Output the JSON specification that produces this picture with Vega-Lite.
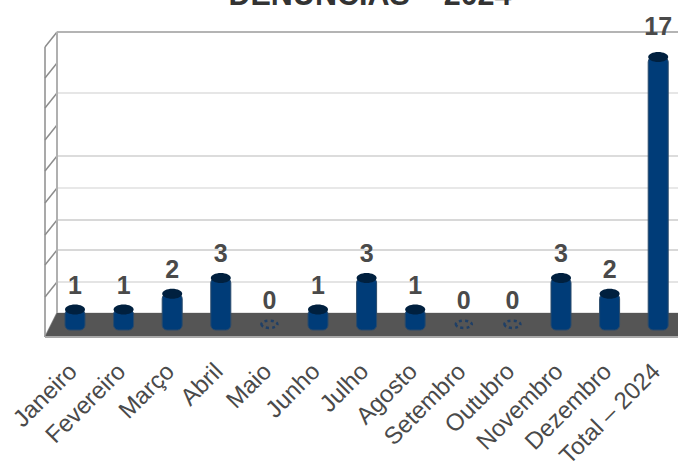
{"$schema":"https://vega.github.io/schema/vega-lite/v6.json","width":678,"height":337,"padding":{"left":0,"top":0,"right":0,"bottom":127},"autosize":{"type":"none"},"background":"white","config":{"view":{"stroke":null}},"datasets":{"months":[{"mes":"Janeiro","n":1},{"mes":"Fevereiro","n":1},{"mes":"Março","n":2},{"mes":"Abril","n":3},{"mes":"Maio","n":0},{"mes":"Junho","n":1},{"mes":"Julho","n":3},{"mes":"Agosto","n":1},{"mes":"Setembro","n":0},{"mes":"Outubro","n":0},{"mes":"Novembro","n":3},{"mes":"Dezembro","n":2},{"mes":"Total – 2024","n":17}],"grid":[{"level":18.59,"front":17.64,"c":"#b4b4b4"},{"level":16.62,"front":15.67,"c":"#ffffff"},{"level":14.72,"front":13.77,"c":"#e6e6e6"},{"level":12.69,"front":11.74,"c":"#ffffff"},{"level":10.73,"front":9.78,"c":"#dcdcdc"},{"level":8.7,"front":7.75,"c":"#e8e8e8"},{"level":6.67,"front":5.72,"c":"#d8d8d8"},{"level":4.77,"front":3.82,"c":"#d8d8d8"},{"level":2.74,"front":1.79,"c":"#e4e4e4"},{"level":0.78,"front":-0.74,"c":"#e4e4e4"}],"floor":[{"edge":45,"back":-0.74,"front":-0.74},{"edge":57,"back":0.78,"front":-0.74},{"edge":678,"back":0.78,"front":-0.74}]},"resolve":{"scale":{"x":"independent"}},"layer":[{"data":{"name":"grid"},"mark":{"type":"rule","strokeWidth":2},"encoding":{"x":{"datum":57,"type":"quantitative","scale":{"domain":[0,678],"range":[0,678]},"axis":null},"x2":{"datum":678},"y":{"field":"level","type":"quantitative","scale":{"domain":[-0.7414,20.615],"range":[337,0],"nice":false,"zero":false},"axis":null},"color":{"field":"c","type":"nominal","scale":null,"legend":null}}},{"data":{"name":"grid"},"mark":{"type":"rule","strokeWidth":1.5,"color":"#8c8c8c"},"encoding":{"x":{"datum":57,"type":"quantitative","scale":{"domain":[0,678],"range":[0,678]},"axis":null},"x2":{"datum":45},"y":{"field":"level","type":"quantitative","axis":null},"y2":{"field":"front"}}},{"data":{"name":"floor"},"mark":{"type":"area","color":"#555555"},"encoding":{"x":{"field":"edge","type":"quantitative","scale":{"domain":[0,678],"range":[0,678]},"axis":null},"y":{"field":"back","type":"quantitative","axis":null},"y2":{"field":"front"}}},{"data":{"values":[{"a":0}]},"mark":{"type":"rule","strokeWidth":2,"color":"#b0b0b0"},"encoding":{"x":{"datum":57,"type":"quantitative","scale":{"domain":[0,678],"range":[0,678]},"axis":null},"y":{"datum":18.59,"type":"quantitative","axis":null},"y2":{"datum":0.78}}},{"data":{"values":[{"a":0}]},"mark":{"type":"rule","strokeWidth":1.5,"color":"#8c8c8c"},"encoding":{"x":{"datum":45,"type":"quantitative","scale":{"domain":[0,678],"range":[0,678]},"axis":null},"y":{"datum":17.64,"type":"quantitative","axis":null},"y2":{"datum":-0.7414}}},{"data":{"values":[{"a":0}]},"mark":{"type":"rule","strokeWidth":2,"color":"#a8a8a8"},"encoding":{"x":{"datum":45,"type":"quantitative","scale":{"domain":[0,678],"range":[0,678]},"axis":null},"x2":{"datum":678},"y":{"datum":-0.7414,"type":"quantitative","axis":null}}},{"data":{"values":[{"t":"DENÚNCIAS – 2024"}]},"mark":{"type":"text","font":"Liberation Sans","fontSize":30.5,"fontWeight":"bold","color":"#333333","baseline":"alphabetic","align":"center"},"encoding":{"x":{"datum":370,"type":"quantitative","scale":{"domain":[0,678],"range":[0,678]},"axis":null},"y":{"datum":20.3,"type":"quantitative","axis":null},"text":{"field":"t","type":"nominal"}}},{"data":{"name":"months"},"transform":[{"filter":"datum.n > 0"}],"mark":{"type":"bar","width":20,"color":"#003c78","stroke":"#2b4a6b","strokeWidth":1,"cornerRadius":5},"encoding":{"x":{"field":"mes","type":"nominal","sort":null,"scale":{"domain":["Janeiro","Fevereiro","Março","Abril","Maio","Junho","Julho","Agosto","Setembro","Outubro","Novembro","Dezembro","Total – 2024"],"range":[50.7,682.5],"paddingInner":0,"paddingOuter":0},"axis":{"title":null,"labelAngle":-45,"labelAlign":"right","labelBaseline":"top","labelFont":"Liberation Sans","labelFontSize":24,"labelColor":"#4a4a4a","domain":false,"ticks":false,"labelPadding":22,"labelOffset":-10,"labelOverlap":false,"labelLimit":0}},"y":{"field":"n","type":"quantitative","axis":null},"y2":{"datum":-0.3}}},{"data":{"name":"months"},"transform":[{"filter":"datum.n > 0"}],"mark":{"type":"point","filled":true,"color":"#00203f","opacity":1,"shape":"M -1 0 A 1 0.5 0 1 0 1 0 A 1 0.5 0 1 0 -1 0 Z","size":400},"encoding":{"x":{"field":"mes","type":"nominal","sort":null,"scale":{"domain":["Janeiro","Fevereiro","Março","Abril","Maio","Junho","Julho","Agosto","Setembro","Outubro","Novembro","Dezembro","Total – 2024"],"range":[50.7,682.5],"paddingInner":0,"paddingOuter":0},"axis":null},"y":{"field":"n","type":"quantitative","axis":null}}},{"data":{"name":"months"},"transform":[{"filter":"datum.n == 0"}],"mark":{"type":"point","filled":false,"color":"#1f3f66","opacity":1,"strokeWidth":2.5,"strokeDash":[3,3],"shape":"M -1 0 A 1 0.46 0 1 0 1 0 A 1 0.46 0 1 0 -1 0 Z","size":256,"yOffset":-1},"encoding":{"x":{"field":"mes","type":"nominal","sort":null,"scale":{"domain":["Janeiro","Fevereiro","Março","Abril","Maio","Junho","Julho","Agosto","Setembro","Outubro","Novembro","Dezembro","Total – 2024"],"range":[50.7,682.5],"paddingInner":0,"paddingOuter":0},"axis":null},"y":{"field":"n","type":"quantitative","axis":null}}},{"data":{"name":"months"},"transform":[{"filter":"datum.n < 17"}],"mark":{"type":"text","font":"Liberation Sans","fontSize":25,"fontWeight":"bold","color":"#4a4a4a","baseline":"alphabetic","dy":-16},"encoding":{"x":{"field":"mes","type":"nominal","sort":null,"scale":{"domain":["Janeiro","Fevereiro","Março","Abril","Maio","Junho","Julho","Agosto","Setembro","Outubro","Novembro","Dezembro","Total – 2024"],"range":[50.7,682.5],"paddingInner":0,"paddingOuter":0},"axis":null},"y":{"field":"n","type":"quantitative","axis":null},"text":{"field":"n","type":"quantitative"}}},{"data":{"name":"months"},"transform":[{"filter":"datum.n == 17"}],"mark":{"type":"text","font":"Liberation Sans","fontSize":25,"fontWeight":"bold","color":"#4a4a4a","baseline":"alphabetic","dy":-22},"encoding":{"x":{"field":"mes","type":"nominal","sort":null,"scale":{"domain":["Janeiro","Fevereiro","Março","Abril","Maio","Junho","Julho","Agosto","Setembro","Outubro","Novembro","Dezembro","Total – 2024"],"range":[50.7,682.5],"paddingInner":0,"paddingOuter":0},"axis":null},"y":{"field":"n","type":"quantitative","axis":null},"text":{"field":"n","type":"quantitative"}}}]}
